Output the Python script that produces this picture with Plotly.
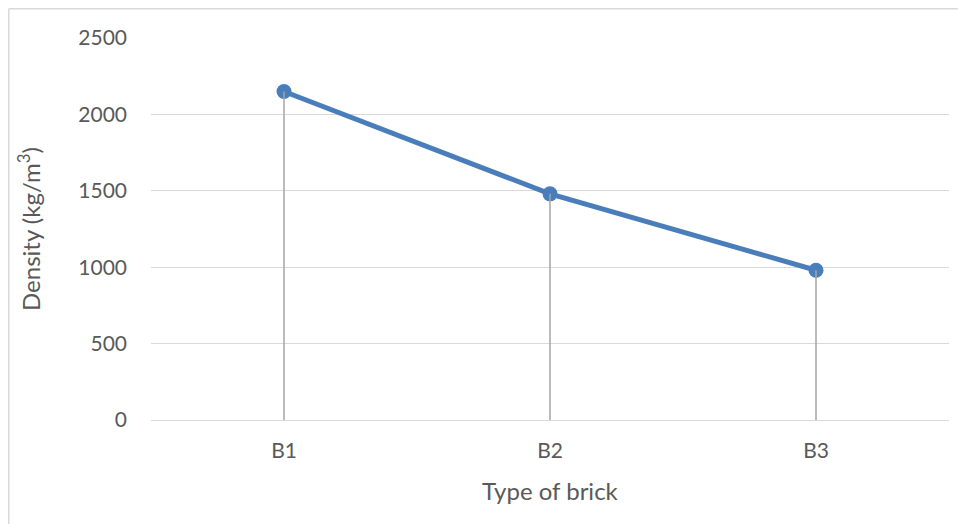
import plotly.graph_objects as go

categories = ["B1", "B2", "B3"]
density = [2150, 1480, 980]
y_ticks = [0, 500, 1000, 1500, 2000, 2500]

# page body has an 8px margin, so the figure starts at (8, 8)
W, H = 950, 516
L, R, T, B = 143, 9, 30, 104
pw, ph = W - L - R, H - T - B

fig = go.Figure()
fig.add_trace(go.Scatter(
    x=categories, y=density, mode="lines+markers",
    line=dict(color="#4A7EBB", width=5),
    marker=dict(color="#4A7EBB", size=15),
    hoverinfo="x+y", showlegend=False,
))
# drop lines from each point down to the axis
dx, dy = [], []
for c, v in zip(categories, density):
    dx += [c, c, None]
    dy += [0, v, None]
fig.add_trace(go.Scatter(
    x=dx, y=dy, mode="lines", line=dict(color="#A5A5A5", width=1.5),
    hoverinfo="skip", showlegend=False,
))

tickfont = dict(family="Lato", size=21, color="#595959")
bx = -(L - 0.75) / pw
by = 1 + (T - 0.75) / ph
fig.update_layout(
    width=W, height=H,
    margin=dict(l=L, r=R, t=T, b=B),
    paper_bgcolor="white", plot_bgcolor="white",
    font=dict(family="Lato", color="#595959"),
    xaxis=dict(
        type="category", categoryorder="array", categoryarray=categories,
        range=[-0.5, 2.5], showgrid=False, zeroline=False, showline=False,
        ticks="", tickfont=tickfont, ticklabelstandoff=16,
        fixedrange=True,
    ),
    yaxis=dict(
        range=[0, 2500], tickvals=y_ticks, showgrid=True,
        gridcolor="#D9D9D9", gridwidth=1.3, zeroline=True,
        zerolinecolor="#D9D9D9", zerolinewidth=1.3, showline=False,
        ticks="", tickfont=tickfont, ticklabelstandoff=23,
        fixedrange=True,
    ),
    annotations=[
        dict(text="Density (kg/m<sup>3</sup>)", xref="paper", yref="paper",
             x=0, y=0.5, xanchor="center", yanchor="middle", xshift=-122,
             textangle=-90, showarrow=False,
             font=dict(family="Lato", size=24, color="#595959")),
        dict(text="Type of brick", xref="paper", yref="paper",
             x=0.5, y=0, xanchor="center", yanchor="middle", yshift=-70,
             showarrow=False,
             font=dict(family="Lato", size=24, color="#595959")),
    ],
    shapes=[
        dict(type="line", xref="paper", yref="paper",
             x0=bx, x1=bx, y0=by, y1=-(B + 20) / ph,
             line=dict(color="#D9D9D9", width=1.5), layer="below"),
        dict(type="line", xref="paper", yref="paper",
             x0=bx, x1=(W + 20 - L) / pw, y0=by, y1=by,
             line=dict(color="#D9D9D9", width=1.5), layer="below"),
    ],
)

fig.write_html("out.html")
